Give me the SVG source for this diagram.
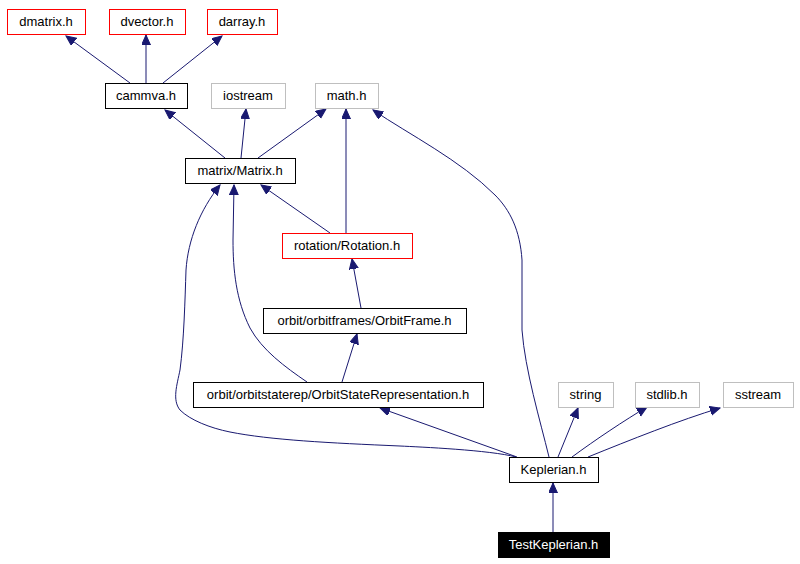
<svg xmlns="http://www.w3.org/2000/svg" width="800" height="564" viewBox="0 0 800 564">
<style>
.n rect{fill:#fff;stroke:#000;stroke-width:1;shape-rendering:crispEdges}
.n.r rect{stroke:#ff0000}
.n.g rect{stroke:#bfbfbf}
.n.b rect{fill:#000}
.n text{font-family:"Liberation Sans",Arial,sans-serif;font-size:13px;text-anchor:middle;fill:#000}
.n.b text{fill:#fff}
#edges path{fill:none;stroke:#191970;stroke-width:1;marker-end:url(#ah)}
</style>
<defs>
<marker id="ah" markerUnits="userSpaceOnUse" markerWidth="12" markerHeight="10" refX="10" refY="4.5" orient="auto">
<path d="M0,0 L10,4.5 L0,9 z" fill="#191970" stroke="#191970"/>
</marker>
</defs>
<rect width="800" height="564" fill="#fff"/>
<g id="edges">
<path d="M130,83 L66,36"/>
<path d="M146,83 L146,35"/>
<path d="M163,83 L222,36"/>
<path d="M225,158 L165,110"/>
<path d="M241,158 L246,109"/>
<path d="M258,158 L326,109"/>
<path d="M330,233 L261,185"/>
<path d="M346,233 L346,109"/>
<path d="M307,382 C285,367 262,350 250,328 C236,300 233,270 233,240 L234,185"/>
<path d="M361,308 L352,259"/>
<path d="M342,382 L357,334"/>
<path d="M516,457 C490,450 420,447 400,446 C330,443 270,440 230,432 C210,428 190,420 180,410 C172,400 177,385 180,370 C184,340 185,300 186,270 C188,240 200,210 220,185"/>
<path d="M517,457 L380,408"/>
<path d="M549,457 C540,420 525,370 522,330 L522,260 C520,230 510,210 495,195 C460,160 410,135 373,110"/>
<path d="M558,457 L578,408"/>
<path d="M572,457 C595,440 625,420 647,407"/>
<path d="M588,457 C630,440 680,420 720,408"/>
<path d="M553,532 L553,483"/>
</g>
<g id="dmatrix" class="n r"><rect x="7.5" y="9.5" width="78" height="25"/><text x="46" y="26">dmatrix.h</text></g>
<g id="dvector" class="n r"><rect x="109.5" y="9.5" width="76" height="25"/><text x="147" y="26">dvector.h</text></g>
<g id="darray" class="n r"><rect x="207.5" y="9.5" width="70" height="25"/><text x="242" y="26">darray.h</text></g>
<g id="cammva" class="n"><rect x="105.5" y="83.5" width="82" height="25"/><text x="146" y="100">cammva.h</text></g>
<g id="iostream" class="n g"><rect x="211.5" y="83.5" width="74" height="25"/><text x="248" y="100">iostream</text></g>
<g id="math" class="n g"><rect x="315.5" y="83.5" width="63" height="25"/><text x="346.5" y="100">math.h</text></g>
<g id="matrix" class="n"><rect x="185.5" y="158.5" width="110" height="25"/><text x="240" y="175">matrix/Matrix.h</text></g>
<g id="rotation" class="n r"><rect x="282.5" y="233.5" width="130" height="25"/><text x="347" y="250">rotation/Rotation.h</text></g>
<g id="orbitframe" class="n"><rect x="263.5" y="308.5" width="203" height="25"/><text x="364.5" y="325">orbit/orbitframes/OrbitFrame.h</text></g>
<g id="osr" class="n"><rect x="193.5" y="382.5" width="290" height="25"/><text x="338" y="399">orbit/orbitstaterep/OrbitStateRepresentation.h</text></g>
<g id="string" class="n g"><rect x="558.5" y="382.5" width="55" height="25"/><text x="585.5" y="399">string</text></g>
<g id="stdlib" class="n g"><rect x="635.5" y="382.5" width="64" height="25"/><text x="667" y="399">stdlib.h</text></g>
<g id="sstream" class="n g"><rect x="723.5" y="382.5" width="70" height="25"/><text x="758" y="399">sstream</text></g>
<g id="keplerian" class="n"><rect x="509.5" y="457.5" width="89" height="25"/><text x="553.5" y="474">Keplerian.h</text></g>
<g id="testkeplerian" class="n b"><rect x="498.5" y="532.5" width="111" height="25"/><text x="553.5" y="549">TestKeplerian.h</text></g>
</svg>
